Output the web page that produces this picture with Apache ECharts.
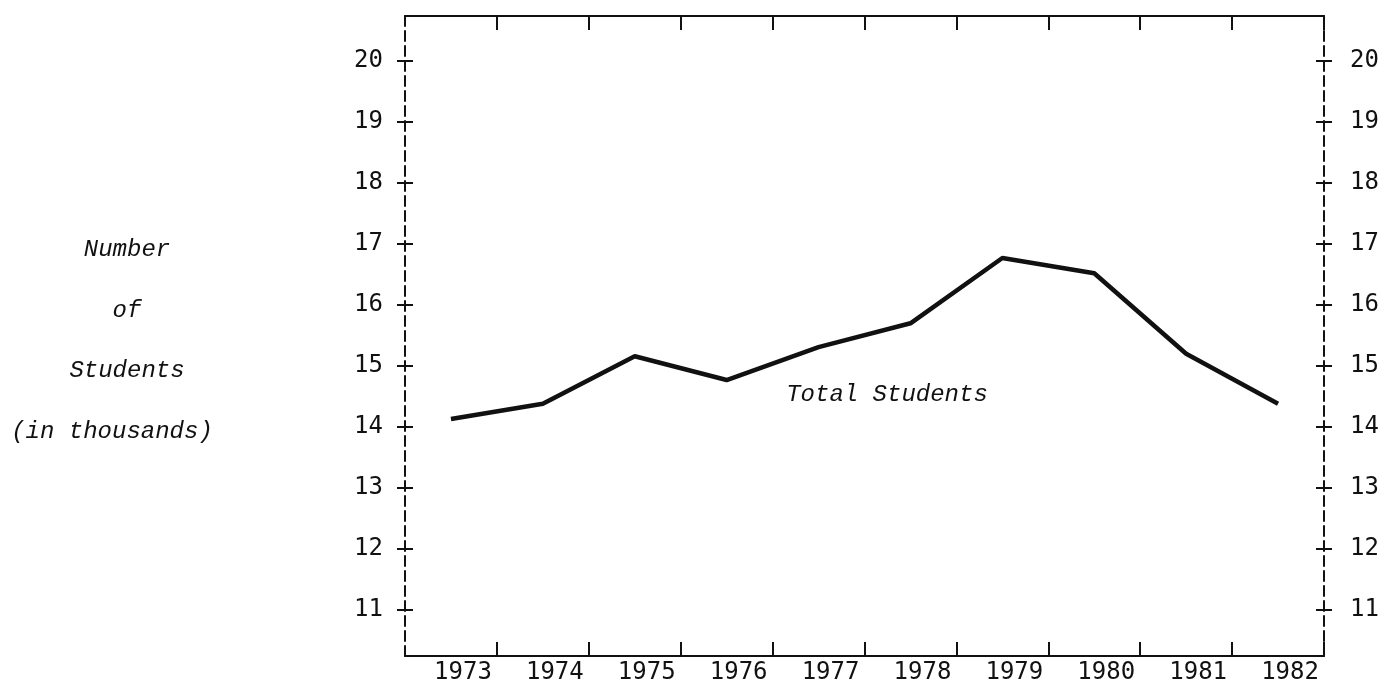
<!DOCTYPE html>
<html>
<head>
<meta charset="utf-8">
<script src="https://cdn.jsdelivr.net/npm/echarts@6/dist/echarts.min.js"></script>
<style>
  html, body { margin: 0; padding: 0; background: #fff; }
  #chart { width: 1385px; height: 679px; }
</style>
</head>
<body>
<div id="chart"></div>
<script>
const years = ['1973', '1974', '1975', '1976', '1977', '1978', '1979', '1980', '1981', '1982']
const totalStudents = [14.13, 14.38, 15.16, 14.77, 15.31, 15.70, 16.77, 16.52, 15.20, 14.38]
const yMin = 11
const yMax = 20
const titleLines = ['Number', 'of', 'Students', '(in thousands)']
const seriesLabel = 'Total Students'

const ink = '#111'
const numFont = 'DejaVu Sans Mono'
const typeFont = 'Liberation Mono'

const chart = echarts.init(document.getElementById('chart'))

// value scale axes (grid 1); the frame lives in grid 0
function scaleAxis(position, inside, labels) {
  return {
    type: 'value',
    gridIndex: 1,
    position,
    min: yMin,
    max: yMax,
    interval: 1,
    axisLine: { show: false },
    axisTick: { show: true, inside, length: 8, lineStyle: { color: ink, width: 2 } },
    axisLabel: {
      show: labels,
      margin: position === 'left' ? 22 : 26,
      color: ink,
      fontFamily: numFont,
      fontSize: 24,
    },
    splitLine: { show: false },
  }
}

function frameSide(position) {
  return {
    type: 'value',
    gridIndex: 0,
    position,
    min: 0,
    max: 1,
    axisLine: { show: true, lineStyle: { color: ink, width: 2, type: [10, 5] } },
    axisTick: { show: false },
    axisLabel: { show: false },
    splitLine: { show: false },
  }
}

function frameTopBottom(position, labels) {
  return {
    type: 'category',
    gridIndex: 0,
    position,
    data: years,
    axisLine: { show: true, onZero: false, lineStyle: { color: ink, width: 2 } },
    axisTick: {
      show: true,
      inside: true,
      length: 14,
      // no ticks on the two corners, the dashed sides sit there
      interval: (i) => i > 0 && i < years.length,
      lineStyle: { color: ink, width: 2 },
    },
    axisLabel: {
      show: labels,
      margin: 5,
      color: ink,
      fontFamily: numFont,
      fontSize: 24,
      padding: [0, 0, 0, 24],
    },
  }
}

chart.setOption({
  animation: false,
  backgroundColor: '#fff',
  grid: [
    { left: 405, right: 61, top: 16, bottom: 23, outerBoundsMode: 'none', containLabel: false },
    { left: 405, right: 61, top: 61, bottom: 69, outerBoundsMode: 'none', containLabel: false },
  ],
  xAxis: [
    frameTopBottom('bottom', true),
    frameTopBottom('top', false),
    {
      type: 'category',
      gridIndex: 1,
      data: years,
      show: false,
    },
  ],
  yAxis: [
    scaleAxis('left', false, true),
    scaleAxis('left', true, false),
    scaleAxis('right', false, true),
    scaleAxis('right', true, false),
    frameSide('left'),
    frameSide('right'),
  ],
  series: [
    {
      name: seriesLabel,
      type: 'line',
      xAxisIndex: 2,
      yAxisIndex: 0,
      data: totalStudents,
      showSymbol: false,
      lineStyle: { color: ink, width: 4.5 },
      z: 5,
    },
  ],
  graphic: [
    ...titleLines.map((t, i) => ({
      type: 'text',
      x: i === 3 ? 112 : 127,
      y: 250 + i * 60.5,
      style: {
        text: t,
        fill: ink,
        fontFamily: typeFont,
        fontStyle: 'italic',
        fontSize: 24,
        align: 'center',
        verticalAlign: 'middle',
      },
    })),
    {
      type: 'text',
      x: 887,
      y: 395,
      style: {
        text: seriesLabel,
        fill: ink,
        fontFamily: typeFont,
        fontStyle: 'italic',
        fontSize: 24,
        align: 'center',
        verticalAlign: 'middle',
      },
    },
  ],
})
</script>
</body>
</html>
